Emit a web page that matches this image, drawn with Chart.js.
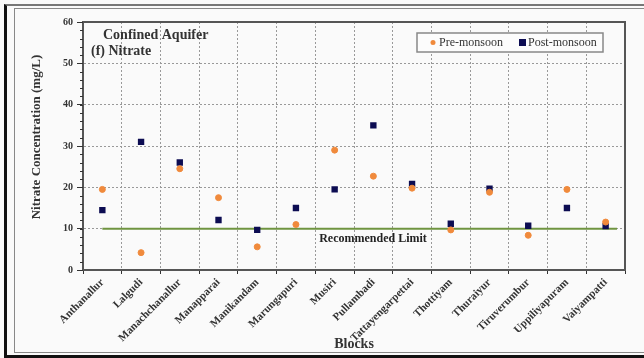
<!DOCTYPE html>
<html>
<head>
<meta charset="utf-8">
<script src="https://cdn.jsdelivr.net/npm/chart.js@4.4.1/dist/chart.umd.min.js"></script>
<style>
  html, body { margin: 0; padding: 0; background: #fafafa; }
  #wrap { position: relative; width: 644px; height: 358px; overflow: hidden; }
  #outer { position: absolute; left: 4px; top: 4px; width: 650px; height: 349px;
           border-left: 3px solid #111; border-top: 2px solid #777; border-bottom: 3px solid #111; }
  #inner { position: absolute; left: 14px; top: 8px; width: 650px; height: 343px;
           border-left: 1px solid #888; border-top: 1px solid #888; border-bottom: 1px solid #888; }
  canvas { position: absolute; left: 0; top: 0; }
</style>
</head>
<body>
<div id="wrap">
  <div id="outer"></div>
  <div id="inner"></div>
  <canvas id="chart" width="644" height="358"></canvas>
</div>
<script>
const blocks = ['Anthanallur', 'Lalgudi', 'Manachchanallur', 'Manapparai', 'Manikandam', 'Marungapuri',
  'Musiri', 'Pullambadi', 'Tattayengarpettai', 'Thottiyam', 'Thuraiyur', 'Tiruverumbur',
  'Uppiliyapuram', 'Vaiyampatti'];
const preMonsoon  = [19.5, 4.2, 24.5, 17.5, 5.6, 11.0, 29.0, 22.7, 19.8, 9.7, 18.8, 8.4, 19.5, 11.6];
const postMonsoon = [14.5, 31.0, 26.0, 12.1, 9.7, 15.0, 19.5, 35.0, 20.8, 11.2, 19.7, 10.7, 15.0, 10.6];
const yTicks = [0, 10, 20, 30, 40, 50, 60];
const recommendedLimit = 10;

const SERIF = '"Liberation Serif", "DejaVu Serif", serif';
const ORANGE = '#f08a3c';
const NAVY = '#0c0c52';

// frame, minor ticks, limit line, y title, in-plot title and legend
const extras = {
  id: 'extras',
  beforeDatasetsDraw(chart) {
    const { ctx, chartArea: a, scales: { x, y } } = chart;
    ctx.save();
    const ly = y.getPixelForValue(recommendedLimit);
    ctx.strokeStyle = '#6f9440';
    ctx.lineWidth = 2;
    ctx.beginPath();
    ctx.moveTo(x.getPixelForValue(0), ly);
    ctx.lineTo(a.right - 8, ly);
    ctx.stroke();
    ctx.fillStyle = '#222';
    ctx.font = 'bold 12px ' + SERIF;
    ctx.textAlign = 'center';
    ctx.textBaseline = 'middle';
    ctx.fillText('Recommended Limit', (x.getPixelForValue(7) + x.getPixelForValue(6)) / 2 + 19, ly + 10);
    ctx.restore();
  },
  afterDraw(chart) {
    const { ctx, chartArea: a, scales: { y } } = chart;
    ctx.save();
    ctx.strokeStyle = '#555';
    ctx.lineWidth = 2;
    ctx.strokeRect(a.left, a.top, a.right - a.left, a.bottom - a.top);
    ctx.lineWidth = 1;
    ctx.strokeStyle = '#333';
    for (let v = 0; v <= 60; v += 2) {
      const py = Math.round(y.getPixelForValue(v)) + 0.5;
      ctx.beginPath();
      ctx.moveTo(a.left - 3, py);
      ctx.lineTo(a.left, py);
      ctx.stroke();
    }
    // y axis title
    ctx.save();
    ctx.translate(37, 137);
    ctx.rotate(-Math.PI / 2);
    ctx.fillStyle = '#333';
    ctx.textAlign = 'center';
    ctx.textBaseline = 'middle';
    ctx.font = 'bold 13px ' + SERIF;
    ctx.fillText('Nitrate Concentration (mg/L)', 0, 0);
    ctx.restore();
    // title inside plot
    ctx.fillStyle = '#333';
    ctx.textAlign = 'left';
    ctx.textBaseline = 'middle';
    ctx.font = 'bold 14px ' + SERIF;
    ctx.fillText('Confined Aquifer', a.left + 20, a.top + 13);
    ctx.fillText('(f) Nitrate', a.left + 8, a.top + 29);
    // legend box
    const lx = 417, ly = 33, lw = 186, lh = 19;
    ctx.fillStyle = '#fcfcfc';
    ctx.fillRect(lx, ly, lw, lh);
    ctx.strokeStyle = '#888';
    ctx.lineWidth = 1.5;
    ctx.strokeRect(lx, ly, lw, lh);
    ctx.font = '12px ' + SERIF;
    ctx.fillStyle = ORANGE;
    ctx.beginPath();
    ctx.arc(lx + 16, ly + lh / 2, 2.5, 0, Math.PI * 2);
    ctx.fill();
    ctx.fillStyle = '#333';
    ctx.fillText('Pre-monsoon', lx + 22, ly + lh / 2 + 0.5);
    ctx.fillStyle = NAVY;
    ctx.fillRect(lx + 102, ly + lh / 2 - 3.5, 7, 7);
    ctx.fillStyle = '#333';
    ctx.fillText('Post-monsoon', lx + 111, ly + lh / 2 + 0.5);
    ctx.restore();
  }
};

new Chart(document.getElementById('chart'), {
  type: 'line',
  data: {
    labels: blocks,
    datasets: [
      {
        label: 'Pre-monsoon',
        data: preMonsoon,
        showLine: false,
        pointStyle: 'circle',
        pointRadius: 3,
        backgroundColor: ORANGE,
        borderColor: ORANGE,
        borderWidth: 1,
      },
      {
        label: 'Post-monsoon',
        data: postMonsoon,
        showLine: false,
        pointStyle: 'rect',
        pointRadius: 4.5,
        backgroundColor: NAVY,
        borderColor: NAVY,
        borderWidth: 0,
      },
    ],
  },
  options: {
    responsive: false,
    animation: false,
    layout: { padding: { left: 20, top: 22, right: 19, bottom: 0 } },
    scales: {
      x: {
        offset: true,
        afterFit: s => { s.height = 88; },
        grid: { offset: true, color: '#999', lineWidth: 1, tickLength: 4, tickColor: '#333' },
        border: { display: true, color: '#555', width: 2, dash: [2, 2] },
        ticks: {
          minRotation: 45, maxRotation: 45, autoSkip: false, padding: 2,
          color: '#333', font: { family: SERIF, size: 11, weight: 'bold' },
        },
        title: {
          display: true, text: 'Blocks', color: '#333',
          font: { family: SERIF, size: 14, weight: 'bold' }, padding: { top: 0, bottom: 5 },
        },
      },
      y: {
        min: 0, max: 60,
        afterFit: s => { s.width = 63; },
        afterBuildTicks: s => { s.ticks = yTicks.map(v => ({ value: v })); },
        grid: { color: '#999', lineWidth: 1, tickLength: 6, tickColor: '#333' },
        border: { display: true, color: '#555', width: 2, dash: [2, 2] },
        ticks: { padding: 4, color: '#333', font: { family: SERIF, size: 10, weight: 'bold' } },
      },
    },
    plugins: { legend: { display: false }, tooltip: { enabled: false } },
  },
  plugins: [extras],
});
</script>
</body>
</html>
